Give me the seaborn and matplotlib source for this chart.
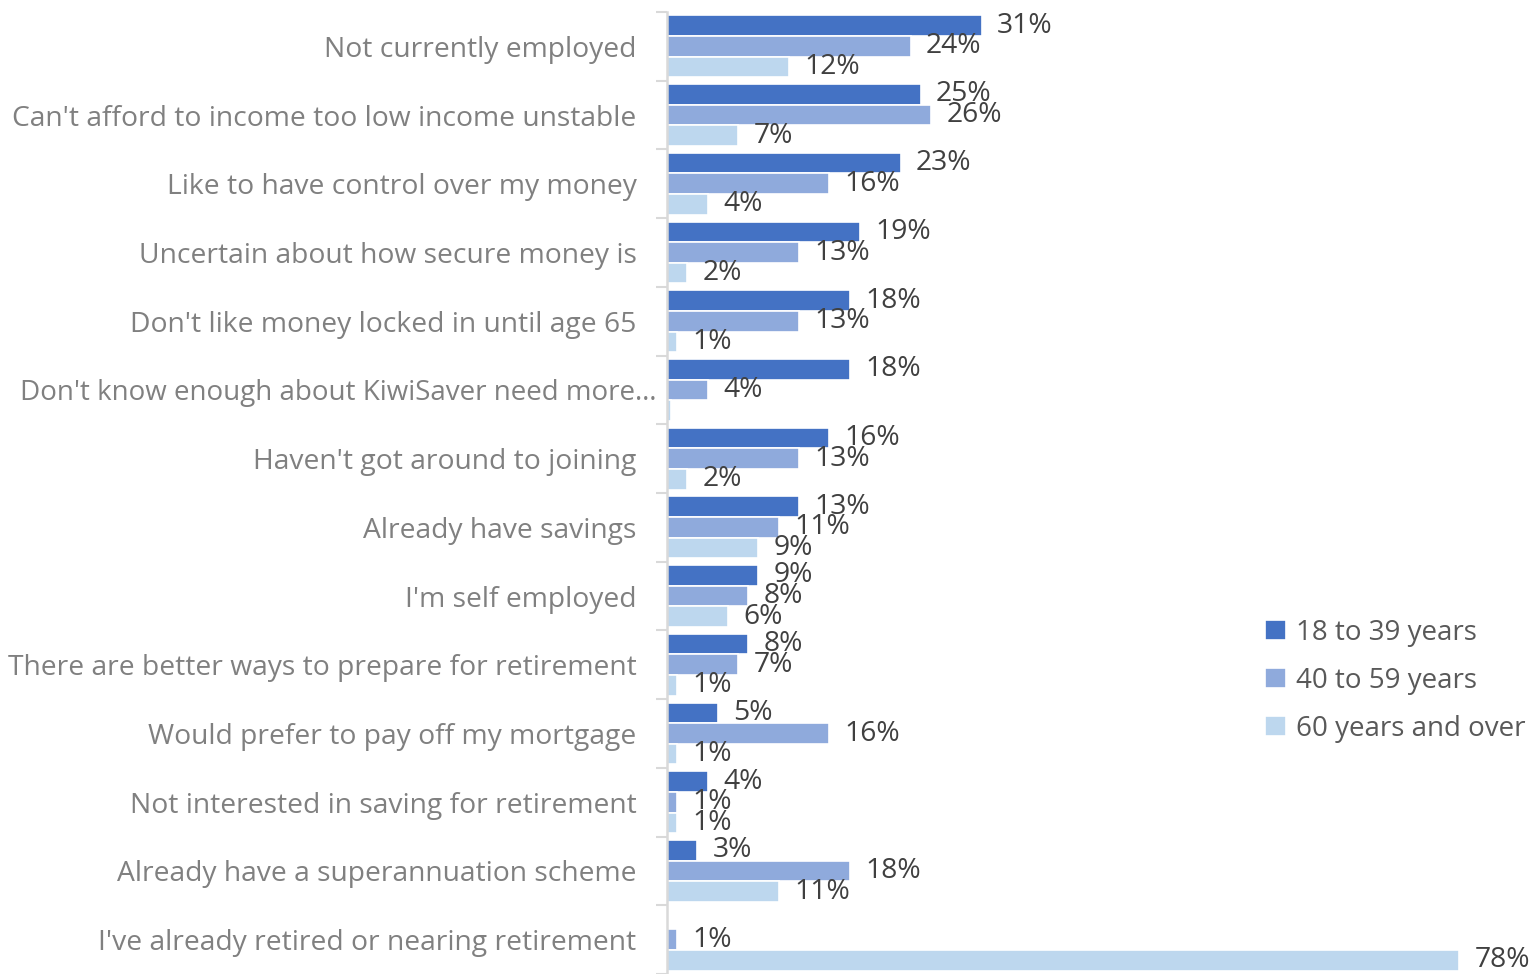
import matplotlib
matplotlib.use("Agg")
import matplotlib.pyplot as plt
import matplotlib.transforms as mtransforms
import seaborn as sns
import pandas as pd
import numpy as np

reasons = [
    "Not currently employed",
    "Can't afford to income too low income unstable",
    "Like to have control over my money",
    "Uncertain about how secure money is",
    "Don't like money locked in until age 65",
    "Don't know enough about KiwiSaver need more…",
    "Haven't got around to joining",
    "Already have savings",
    "I'm self employed",
    "There are better ways to prepare for retirement",
    "Would prefer to pay off my mortgage",
    "Not interested in saving for retirement",
    "Already have a superannuation scheme",
    "I've already retired or nearing retirement",
]
groups = ["18 to 39 years", "40 to 59 years", "60 years and over"]

age_18_39 = [31, 25, 23, 19, 18, 18, 16, 13, 9, 8, 5, 4, 3, 0]
age_40_59 = [24, 26, 16, 13, 13, 4, 13, 11, 8, 7, 16, 1, 18, 1]
age_60_plus = [12, 7, 4, 2, 1, 0.4, 2, 9, 6, 1, 1, 1, 11, 78]

palette = ["#4472C4", "#8FAADC", "#BDD7EE"]

df = pd.DataFrame({
    "reason": reasons * 3,
    "group": [g for g in groups for _ in reasons],
    "value": age_18_39 + age_40_59 + age_60_plus,
})

sns.set_theme(style="white")
plt.rcParams["font.family"] = ["Open Sans", "DejaVu Sans"]
FS = 20.3

fig = plt.figure(figsize=(15.34, 9.74), dpi=100)
ax = fig.add_axes([667 / 1534, 0.0, (1459 - 667) / 1534, 1 - 12 / 974])

sns.barplot(data=df, y="reason", x="value", hue="group", order=reasons,
            hue_order=groups, palette=palette, orient="h", width=0.9,
            edgecolor="white", linewidth=1.2, saturation=1, ax=ax)

ax.set_xlim(0, 78)
ax.set_ylim(len(reasons) - 0.5, -0.5)
ax.set_xlabel("")
ax.set_ylabel("")
ax.set_xticks([])

# value labels; values below 1% are left unlabelled
for cont, vals in zip(ax.containers, [age_18_39, age_40_59, age_60_plus]):
    labs = [f"{v:.0f}%" if v >= 1 else "" for v in vals]
    ax.bar_label(cont, labels=labs, padding=11, fontsize=FS,
                 color="#404040", clip_on=False)

for s in ["top", "right", "bottom"]:
    ax.spines[s].set_visible(False)
ax.spines["left"].set_color("#D9D9D9")
ax.spines["left"].set_linewidth(1.8)

# category labels and boundary ticks
ax.tick_params(axis="y", which="major", length=0, pad=22, labelsize=FS,
               labelcolor="#808080")
ax.set_yticks(np.arange(-0.5, len(reasons) + 0.5, 1), minor=True)
ax.tick_params(axis="y", which="minor", length=8, width=1.5, color="#D9D9D9",
               left=True)

# the truncated long label runs closer to the axis so it stays inside the figure
for lab in ax.get_yticklabels():
    if lab.get_text().endswith("…"):
        lab.set_fontsize(20)
        lab.set_transform(lab.get_transform() +
                          mtransforms.ScaledTranslation(0.2, 0, fig.dpi_scale_trans))

leg = ax.legend(loc="upper left", bbox_to_anchor=(1265 / 1534, 1 - 619 / 974),
                bbox_transform=fig.transFigure, frameon=False, fontsize=20,
                handlelength=0.75, handleheight=0.75, handletextpad=0.35,
                labelspacing=0.72, borderaxespad=0, borderpad=0)
for t in leg.get_texts():
    t.set_color("#595959")

fig.savefig("out.png", dpi=100)
